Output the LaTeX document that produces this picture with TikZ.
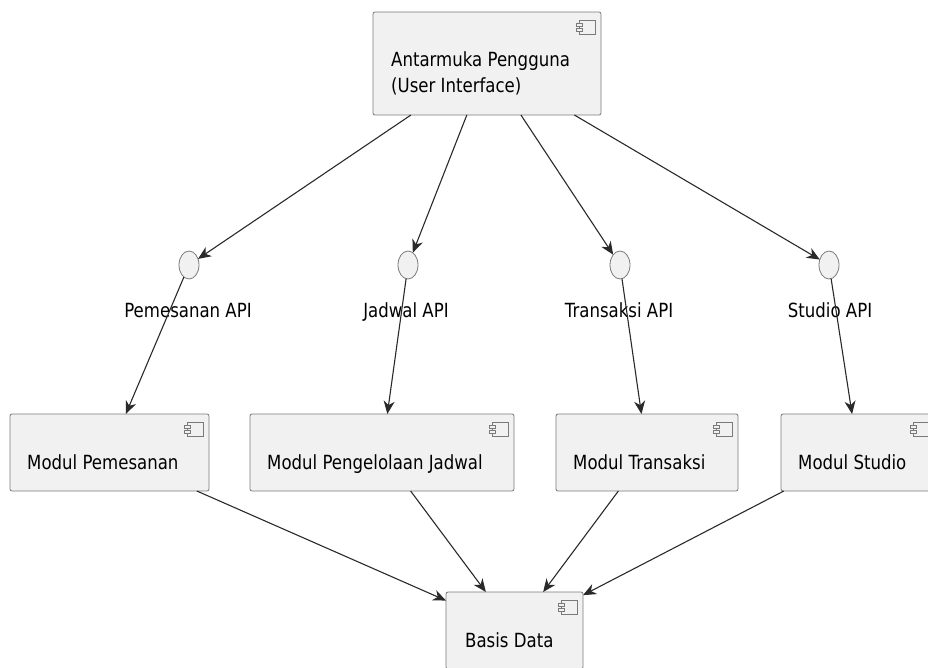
\documentclass[tikz,border=0pt]{standalone}
\usepackage{fontspec}
\setmainfont{DejaVu Sans}[FakeStretch=0.85]
\usetikzlibrary{arrows.meta,shapes.geometric}

\definecolor{boxfill}{HTML}{F1F1F1}
\definecolor{boxline}{HTML}{7A7A7A}
\definecolor{arrowline}{HTML}{2A2A2A}

\newcommand{\compicon}[1]{%
  \draw [icon] ([shift={(-22,8)}]#1.north east) rectangle ++(16,14);
  \draw [icon] ([shift={(-25,11)}]#1.north east) rectangle ++(6,3);
  \draw [icon] ([shift={(-25,16)}]#1.north east) rectangle ++(6,3);
}

\begin{document}
\begin{tikzpicture}[x=1pt, y=-1pt]

\tikzstyle{comp}=[rectangle, draw=boxline, fill=boxfill, line width=0.8pt, rounded corners=2pt, inner sep=0pt, outer sep=0pt]
\tikzstyle{iface}=[ellipse, draw=boxline, fill=boxfill, line width=0.8pt, minimum width=20pt, minimum height=28pt, inner sep=0pt, outer sep=0pt]
\tikzstyle{txt}=[inner sep=0pt, font=\fontsize{19.5}{24}\selectfont, anchor=base west]
\tikzstyle{lbl}=[inner sep=0pt, font=\fontsize{19.5}{24}\selectfont, anchor=base]
\tikzstyle{icon}=[draw=boxline, fill=boxfill, line width=0.7pt]
\tikzstyle{arrow}=[-{Stealth[length=13pt,width=11pt,inset=4pt]}, draw=arrowline, line width=1.1pt]

\useasboundingbox (0,0) rectangle (928,668);
\clip (0,0) rectangle (928,668);

% components
\node (A) [comp, minimum width=228pt, minimum height=103pt] at (487,63.5) {};
\node (F) [comp, minimum width=199pt, minimum height=77pt] at (109.5,452.5) {};
\node (G) [comp, minimum width=264pt, minimum height=77pt] at (382,452.5) {};
\node (H) [comp, minimum width=182pt, minimum height=77pt] at (647,452.5) {};
\node (I) [comp, minimum width=154pt, minimum height=77pt] at (858,452.5) {};
\node (J) [comp, minimum width=137pt, minimum height=77pt] at (514.5,630.5) {};

\compicon{A}
\compicon{F}
\compicon{G}
\compicon{H}
\compicon{I}
\compicon{J}

\node (At) [txt] at ([shift={(18,55)}]A.north west) {Antarmuka Pengguna};
\node (Au) [txt] at ([shift={(18,81)}]A.north west) {(User Interface)};
\node (Ft) [txt] at ([shift={(17,55)}]F.north west) {Modul Pemesanan};
\node (Gt) [txt] at ([shift={(17,55)}]G.north west) {Modul Pengelolaan Jadwal};
\node (Ht) [txt] at ([shift={(17,55)}]H.north west) {Modul Transaksi};
\node (It) [txt] at ([shift={(17,55)}]I.north west) {Modul Studio};
\node (Jt) [txt] at ([shift={(19,55)}]J.north west) {Basis Data};

% interfaces
\node (B) [iface] at (189,265) {};
\node (C) [iface] at (408,265) {};
\node (D) [iface] at (620,265) {};
\node (E) [iface] at (829,265) {};

\node (Bt) [lbl] at (188,317) {Pemesanan API};
\node (Ct) [lbl] at (406,317) {Jadwal API};
\node (Dt) [lbl] at (619,317) {Transaksi API};
\node (Et) [lbl] at (830,317) {Studio API};

\draw [arrow] (A) -- (B);
\draw [arrow] (A) -- (C);
\draw [arrow] (A) -- (D);
\draw [arrow] (A) -- (E);

\draw [arrow] (B) -- (F);
\draw [arrow] (C) -- (G);
\draw [arrow] (D) -- (H);
\draw [arrow] (E) -- (I);

\draw [arrow] (F) -- (J);
\draw [arrow] (G) -- (J);
\draw [arrow] (H) -- (J);
\draw [arrow] (I) -- (J);

\end{tikzpicture}
\end{document}
